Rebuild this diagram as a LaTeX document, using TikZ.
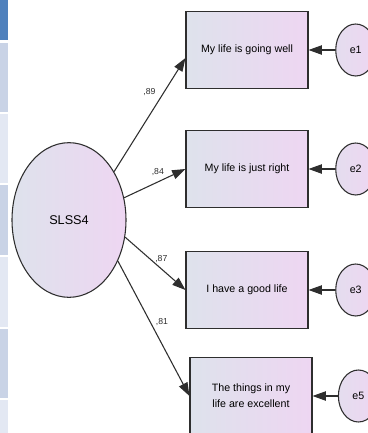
\documentclass[tikz,border=0pt]{standalone}
\usepackage{fontspec}
\setmainfont{Liberation Sans}
\usetikzlibrary{arrows.meta,positioning,shapes.geometric}
\definecolor{ink}{HTML}{2E2E2E}
\definecolor{haze}{HTML}{DEE2EC}
\definecolor{lilac}{HTML}{EED6F2}
\definecolor{cellhead}{HTML}{4F81BD}
\definecolor{celldark}{HTML}{C9D3E6}
\definecolor{celllight}{HTML}{E3E8F3}

\begin{document}
\begin{tikzpicture}[x=0.75pt,y=-0.75pt,
  item/.style={draw=ink,line width=.8pt,left color=haze,right color=lilac,minimum width=91.5pt,minimum height=58pt,align=center,font=\fontsize{8}{12}\selectfont},
  err/.style={ellipse,draw=ink,line width=.8pt,left color=haze!60!lilac,right color=lilac,minimum width=30pt,minimum height=39pt,inner sep=0pt,font=\fontsize{8}{10}\selectfont},
  load/.style={-{Triangle[length=10pt,width=7pt]},line width=.8pt,ink},
  coef/.style={font=\fontsize{6.5}{7}\selectfont,inner sep=1pt}]
  \clip (0,0) rectangle (368,433);
  \fill[white] (0,0) rectangle (368,433);
  % table edge on the left
  \fill[cellhead] (0,0) rectangle (8,40);
  \foreach \ya/\yb/\cc in {43/112/celldark,114/183/celllight,185/255/celldark,257/327/celllight,329/398/celldark,400/433/celllight}
    \fill[\cc] (0,\ya) rectangle (8,\yb);
  % latent factor and items
  \node[ellipse,draw=ink,line width=.8pt,left color=haze,right color=lilac,minimum width=85.5pt,minimum height=116pt,font=\fontsize{9.5}{11}\selectfont] (slss) at (69,220) {SLSS4};
  \node[item] (b1) at (247,50) {My life is going well};
  \node[item] (b2) at (247,169) {My life is just right};
  \node[item] (b3) at (247,290) {I have a good life};
  \node[item] (b4) at (251,396) {The things in my\\life are excellent};
  \node[err,right=20pt of b1] (e1) {e1};
  \node[err,right=20pt of b2] (e2) {e2};
  \node[err,right=20pt of b3] (e3) {e3};
  \node[err,right=19pt of b4] (e5) {e5};
  % loadings
  \draw[load] (slss.47) -- ([yshift=-6pt]b1.west) node[coef,pos=.7,left=5pt] {,89};
  \draw[load] (slss.22) -- (b2.west) node[coef,pos=.55,above=3pt] {,84};
  \draw[load] (slss.-17) -- (b3.west) node[coef,pos=.6,above=3pt] {,87};
  \draw[load] (slss.-40) -- (b4.west) node[coef,pos=.45,right=3pt] {,81};
  \draw[load] (e1) -- (b1); \draw[load] (e2) -- (b2); \draw[load] (e3) -- (b3); \draw[load] (e5) -- (b4);
\end{tikzpicture}
\end{document}
